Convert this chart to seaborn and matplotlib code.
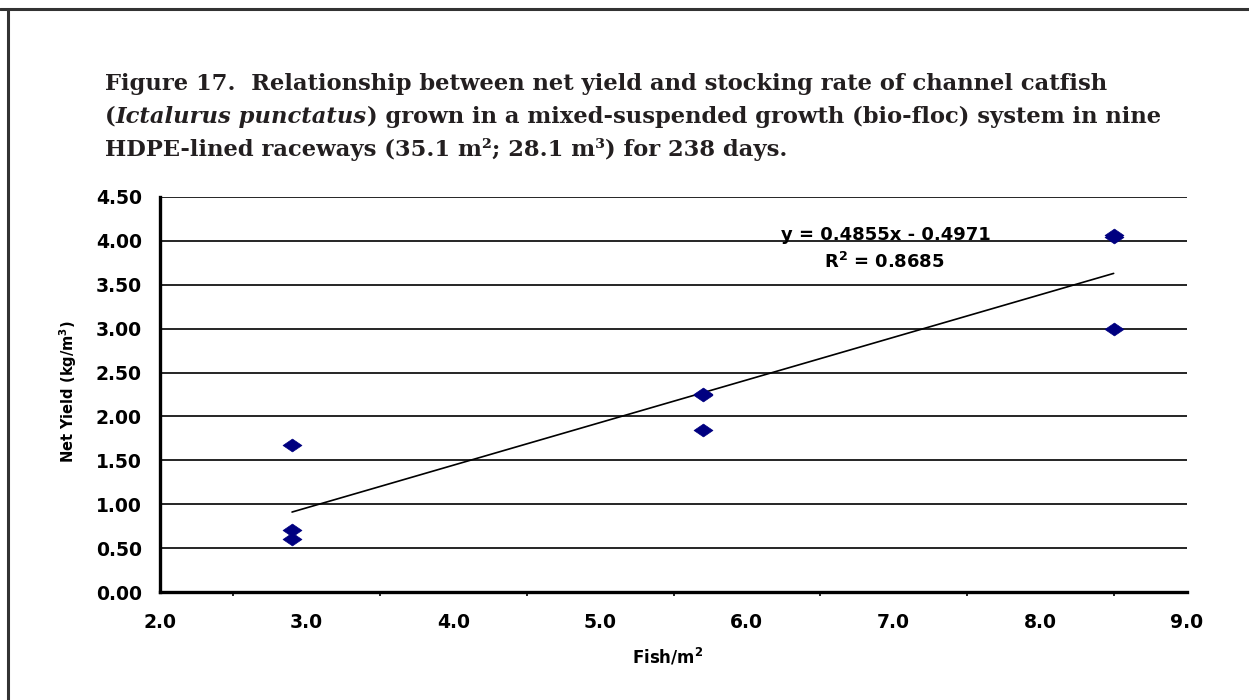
import numpy as np
import pandas as pd
import matplotlib
matplotlib.use("Agg")
import matplotlib.pyplot as plt
from matplotlib.path import Path
from matplotlib.lines import Line2D
import seaborn as sns

# ---- data ----
stocking_rate = [2.9, 2.9, 2.9, 5.7, 5.7, 5.7, 8.5, 8.5, 8.5]
net_yield = [1.67, 0.71, 0.60, 2.25, 2.26, 1.84, 4.07, 4.05, 3.00]
trend_slope = 0.4855
trend_intercept = -0.4971
r_squared = 0.8685
x_ticks = [2.0, 3.0, 4.0, 5.0, 6.0, 7.0, 8.0, 9.0]
x_minor = [2.5, 3.5, 4.5, 5.5, 6.5, 7.5, 8.5]
y_ticks = [0.0, 0.5, 1.0, 1.5, 2.0, 2.5, 3.0, 3.5, 4.0, 4.5]

sns.set_theme(style="white")
plt.rcParams['font.family'] = ['DejaVu Sans']

W, H = 1249, 700
fig = plt.figure(figsize=(W / 100, H / 100), dpi=100)
fig.patch.set_facecolor("white")

# page border (top and left)
fig.add_artist(Line2D([0, 1], [1 - 9 / H, 1 - 9 / H], transform=fig.transFigure,
                      color="#333333", lw=2.2))
fig.add_artist(Line2D([8 / W, 8 / W], [0, 1 - 9 / H], transform=fig.transFigure,
                      color="#333333", lw=2.2))

# ---- title with mixed italic ----
title_color = "#231f20"
tfont = dict(family="DejaVu Serif", weight="bold", size=16.3, color=title_color)
x0 = 105 / W
lines = [
    [("Figure 17.  Relationship between net yield and stocking rate of channel catfish", "normal")],
    [("(", "normal"), ("Ictalurus punctatus", "italic"),
     (") grown in a mixed-suspended growth (bio-floc) system in nine", "normal")],
    [("HDPE-lined raceways (35.1 m\u00b2; 28.1 m\u00b3) for 238 days.", "normal")],
]
baselines = [90, 123, 156]
renderer = fig.canvas.get_renderer()
for segs, base in zip(lines, baselines):
    xpos = x0
    for txt, style in segs:
        t = fig.text(xpos, 1 - base / H, txt, style=style, ha="left", va="baseline", **tfont)
        bb = t.get_window_extent(renderer=renderer)
        xpos += bb.width / W

# ---- axes ----
left, right, top, bottom = 160, 1187, 197, 592
ax = fig.add_axes([left / W, 1 - bottom / H, (right - left) / W, (bottom - top) / H])
ax.set_facecolor("white")

df = pd.DataFrame({"rate": stocking_rate, "yield": net_yield})
diamond = Path([(-1, 0), (0, 0.68), (1, 0), (0, -0.68), (-1, 0)],
               [Path.MOVETO, Path.LINETO, Path.LINETO, Path.LINETO, Path.CLOSEPOLY])
sns.scatterplot(data=df, x="rate", y="yield", marker=diamond, s=185,
                color="#000080", edgecolor="#000080", linewidth=0.5, ax=ax, zorder=4)

xs = np.array([min(stocking_rate), max(stocking_rate)])
trend = pd.DataFrame({"x": xs, "y": trend_slope * xs + trend_intercept})
sns.lineplot(data=trend, x="x", y="y", color="black", lw=1.2, ax=ax, zorder=3)

ax.set_xlim(2.0, 9.0)
ax.set_ylim(0.0, 4.5)
ax.set_xticks(x_ticks)
ax.set_xticks(x_minor, minor=True)
ax.set_yticks(y_ticks)
ax.set_xticklabels([f"{v:.1f}" for v in x_ticks])
ax.set_yticklabels([f"{v:.2f}" for v in y_ticks])

for side in ["top", "right"]:
    ax.spines[side].set_visible(False)
for side in ["left", "bottom"]:
    ax.spines[side].set_color("black")
    ax.spines[side].set_linewidth(2.4)

ax.yaxis.grid(True, color="black", lw=1.2)
ax.xaxis.grid(False)
ax.set_axisbelow(True)

ax.tick_params(axis="both", which="major", direction="out", length=5, width=1.5,
               color="black", labelsize=13.5, labelcolor="black")
ax.tick_params(axis="x", which="major", pad=10)
ax.tick_params(axis="y", which="major", pad=8)
ax.tick_params(axis="x", which="minor", direction="out", length=3, width=1.2, color="black",
               bottom=True)
for lab in ax.get_xticklabels() + ax.get_yticklabels():
    lab.set_fontweight("bold")

ax.set_xlabel("")
ax.set_ylabel("")
fig.text(668 / W, 1 - 657 / H, r"Fish/m$^{\mathbf{2}}$", ha="center", va="center",
         fontsize=12, fontweight="bold", color="black")
fig.text(68 / W, 1 - 392 / H, r"Net Yield (kg/m$^{\mathbf{3}}$)", ha="center", va="center",
         rotation=90, fontsize=10.5, fontweight="bold", color="black")

fig.text(886 / W, 1 - 235 / H, f"y = {trend_slope:.4f}x - {abs(trend_intercept):.4f}",
         ha="center", va="center", fontsize=13, fontweight="bold", color="black")
fig.text(884 / W, 1 - 262 / H, f"R$^{{\\mathbf{{2}}}}$ = {r_squared:.4f}",
         ha="center", va="center", fontsize=13, fontweight="bold", color="black")

fig.savefig("out.png", dpi=100, facecolor="white")
